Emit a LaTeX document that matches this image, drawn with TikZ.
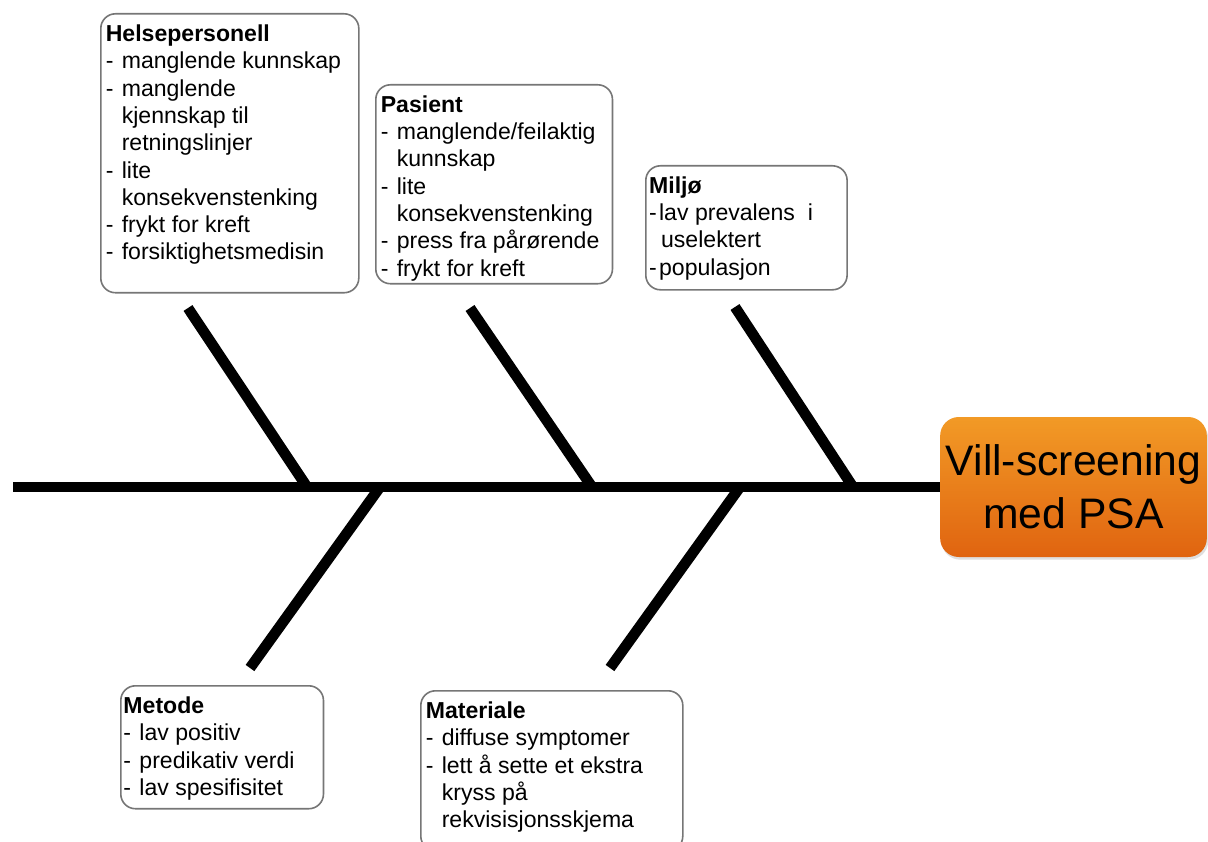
\documentclass[tikz,border=0pt]{standalone}
\usepackage{fontspec}
\setmainfont{Liberation Sans}
\usetikzlibrary{shadows}
\definecolor{boxgray}{RGB}{118,118,118}
\definecolor{headtop}{RGB}{242,154,38}
\definecolor{headbot}{RGB}{224,100,16}
\newcommand\dsh[1][12pt]{\makebox[#1][l]{-}}
\newcommand\ind[1][12pt]{\hspace*{#1}}
\tikzset{
	causebox/.style={draw=boxgray, line width=1.2pt, rounded corners=11pt, fill=white,
		anchor=north west, inner xsep=3.75pt, inner ysep=6.3pt,
		font=\fontsize{17.3}{20.5}\selectfont},
	bone/.style={line width=8pt, line cap=butt},
	headbox/.style={rounded corners=14pt, top color=headtop, bottom color=headbot,
		minimum width=200pt, minimum height=105pt, inner sep=0pt, align=center,
		font=\fontsize{32}{39.75}\selectfont,
		drop shadow={shadow xshift=1pt, shadow yshift=-2pt, opacity=0.25}}
}
\begin{document}
\begin{tikzpicture}[x=0.75pt, y=-0.75pt]
	\useasboundingbox (0,0) rectangle (1208,842);

	\node[headbox] (head) at (1073.5,487) {Vill-screening\\med PSA};%Kopf
	\coordinate (tail) at (13,487);
	\draw[bone] (tail) -- (head.west);%Rueckgrat

	%Graeten oben
	\coordinate (b1a) at (188,308);
	\coordinate (b1b) at (307,487);
	\coordinate (b2a) at (470,308);
	\coordinate (b2b) at (592,487);
	\coordinate (b3a) at (735,307);
	\coordinate (b3b) at (853,487);
	\draw[bone] (b1a) -- (b1b);
	\draw[bone] (b2a) -- (b2b);
	\draw[bone] (b3a) -- (b3b);
	%Graeten unten
	\coordinate (b4a) at (380,487);
	\coordinate (b4b) at (250,668);
	\coordinate (b5a) at (740,487);
	\coordinate (b5b) at (610,668);
	\draw[bone] (b4a) -- (b4b);
	\draw[bone] (b5a) -- (b5b);

	%%%%%%
	%Ursachen
	\node[causebox] (helse) at (100,13) {\parbox[c][196.6pt][t]{186pt}{\strut\textbf{Helsepersonell}\\
		\dsh manglende kunnskap\\
		\dsh manglende\\
		\ind kjennskap til\\
		\ind retningslinjer\\
		\dsh lite\\
		\ind konsekvenstenking\\
		\dsh frykt for kreft\\
		\dsh forsiktighetsmedisin}};
	\node[causebox] (pasient) at (375,84) {\parbox[c][136.6pt][t]{170pt}{\strut\textbf{Pasient}\\
		\dsh manglende/feilaktig\\
		\ind kunnskap\\
		\dsh lite\\
		\ind konsekvenstenking\\
		\dsh press fra pårørende\\
		\dsh frykt for kreft}};
	\node[causebox, inner xsep=2.5pt] (miljo) at (645,165) {\parbox[c][80.4pt][t]{146pt}{\strut\textbf{Miljø}\\
		\dsh[7.5pt]lav prevalens\ \ i\\
		\ind[9pt]uselektert\\
		\dsh[7.5pt]populasjon}};
	\node[causebox, inner xsep=2pt] (metode) at (120,685) {\parbox[c][79.6pt][t]{148pt}{\strut\textbf{Metode}\\
		\dsh lav positiv\\
		\dsh predikativ verdi\\
		\dsh lav spesifisitet}};
	\node[causebox] (materiale) at (420,690) {\parbox[c][107.4pt][t]{189pt}{\strut\textbf{Materiale}\\
		\dsh diffuse symptomer\\
		\dsh lett å sette et ekstra\\
		\ind kryss på\\
		\ind rekvisisjonsskjema}};
\end{tikzpicture}
\end{document}
